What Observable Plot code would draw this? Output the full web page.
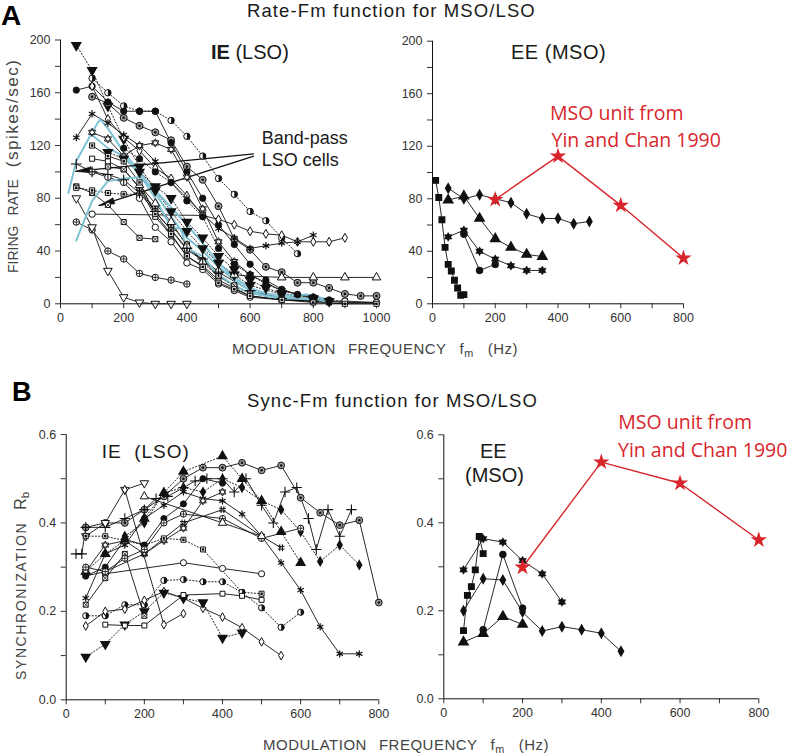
<!DOCTYPE html>
<html><head><meta charset="utf-8">
<script src="https://cdn.jsdelivr.net/npm/d3@7"></script>
<script src="https://cdn.jsdelivr.net/npm/@observablehq/plot@0.6"></script>
<style>
body{margin:0;background:#fff;}
#fig{position:relative;width:798px;height:756px;background:#fff;overflow:hidden;}
.pw{position:absolute;}
.t{position:absolute;white-space:nowrap;}
.t sub{font-size:0.72em;vertical-align:-0.25em;line-height:0;}
</style></head><body><div id="fig"></div>
<script>
// ===================== DATA =====================
// Panel A, IE (LSO): firing rate (spikes/sec) vs modulation frequency (Hz)
const ieR1 = [[50,196],[100,177],[150,150],[200,125],[250,104],[300,86],[350,70],[400,55],[450,42],[500,31],[550,22],[600,14],[700,7],[800,3]];
const ieR2 = [[100,171],[150,160],[200,150],[250,146],[300,146],[350,139],[400,127],[450,112],[500,95],[550,83],[600,70],[650,63],[700,50],[750,38]];
const ieR3 = [[100,157],[150,152],[200,141],[250,135],[300,130],[350,124],[400,104],[450,94],[500,74],[550,49],[600,41],[650,28],[700,24],[750,16],[800,16],[850,12],[900,7.5],[950,6],[1000,6]];
const ieR4 = [[50,162],[100,165],[150,153],[200,146],[250,146],[300,146],[350,122],[400,100],[450,80],[500,60],[550,45],[600,30],[650,18],[700,11],[750,7],[800,4]];
const ieR5 = [[100,165],[150,140],[200,126],[250,116],[300,103],[350,95],[400,82],[450,67],[500,64],[550,60],[600,55],[650,53],[700,52],[750,47],[800,47],[850,47],[900,50]];
const ieR6 = [[50,126],[100,144],[150,137],[200,128],[250,120],[300,108],[350,92],[400,80],[450,68],[500,57],[550,50],[600,42],[650,44],[700,46],[750,47],[800,52]];
const ieR7 = [[100,130],[150,125],[200,112],[250,120],[300,122],[350,117],[400,96],[450,72],[500,47],[550,32],[600,22],[700,10],[800,5]];
const ieR8 = [[50,89],[100,84],[150,75],[200,62],[250,50],[300,49]];
const ieR9 = [[50,62],[100,56],[150,40],[200,34],[250,23],[300,20],[350,18],[400,15]];
const ieR10 = [[50,80],[100,58],[150,25],[200,5],[250,1],[300,0],[350,0],[400,0]];
const ieR11 = [[50,88],[100,86],[150,84],[200,83],[250,83],[300,74],[350,60],[400,45],[450,31],[500,21],[550,13],[600,8],[700,5],[800,3],[900,2]];
const ieR12 = [[100,68],[450,67]];
const ieR13 = [[100,110],[150,108],[200,102],[250,88],[300,66],[350,52],[400,36],[450,29],[500,18],[550,12],[600,6],[700,3],[800,2],[900,1],[1000,1]];
const ieR14 = [[100,100],[150,96],[200,92],[250,80],[300,58],[350,47],[400,31],[450,26],[500,15],[550,10],[600,5],[700,3],[800,2],[900,2],[1000,1]];
const ieR15 = [[150,104],[200,102],[250,88],[300,70],[350,56],[400,41],[450,33],[500,21],[550,14],[600,8],[700,4],[800,2],[850,1]];
const ieR16 = [[250,90],[300,76],[350,62],[400,44],[450,32],[500,25],[550,22],[600,21],[700,20],[800,20],[900,20],[1000,20]];
const ieR17 = [[150,115],[200,110],[250,100],[300,89],[350,80],[400,62],[450,50],[500,36],[550,26],[600,18],[650,12],[700,8],[800,4],[850,2]];
const ieR18 = [[200,118],[250,110],[300,100],[350,92],[400,78],[450,66],[500,42],[550,30],[600,22],[650,15],[700,10],[750,7],[800,5],[850,3]];
const ieR19 = [[50,106],[100,100],[150,98],[200,94],[250,84],[300,70],[350,56],[400,42],[450,34],[500,24],[600,10],[700,4],[800,2]];
const ieR20 = [[100,120],[150,112],[200,108],[250,92],[300,68],[350,53],[400,36],[450,28],[500,16],[550,11],[600,6],[700,3],[800,1],[900,0],[1000,0]];
// band-pass LSO cells (highlighted)
const bandPass1 = [[25,84],[50,108],[100,130],[125,140],[150,133],[200,115],[250,100],[300,84],[350,66],[400,50],[450,40],[500,28],[550,18],[600,10],[650,6],[700,5],[750,4],[800,3],[850,2]];
const bandPass2 = [[50,48],[100,78],[150,93],[200,95],[250,96],[300,86],[350,73],[400,60],[450,46],[500,31],[550,20],[600,12],[650,8],[700,6],[780,7],[850,3]];
const bandPass3 = [[100,128],[150,118],[200,112],[250,98],[300,80],[350,58],[380,57],[400,42],[450,36],[500,22],[550,14],[600,8],[700,4],[800,4]];
// annotation arrows: [tail fm, tail rate, tip fm, tip rate]
const bandPassArrows = [[612,113.6,47,100.4],[612,112,121,74.4]];

// Panel A, EE (MSO)
const eeR_square = [[10,94],[20,81],[30,64],[40,43],[50,30],[60,25],[70,18],[80,12],[90,6.5],[100,7]];
const eeR_diamond = [[50,88],[100,80],[150,83],[200,80],[250,77],[300,68.5],[350,65],[400,65],[450,61],[500,62.7]];
const eeR_triangle = [[50,79],[100,82],[150,65],[200,49.5],[250,43],[300,37.6],[350,36]];
const eeR_star = [[50,51],[100,56],[150,40],[200,34],[250,29],[300,25.4],[350,25.4]];
const eeR_circle = [[100,53],[150,25.4],[200,30]];
const yinChanRate = [[200,79.4],[400,112.5],[600,75],[800,34.8]];

// Panel B, IE (LSO): synchronization Rb vs modulation frequency
const ieS1 = [[50,.39],[100,.40],[150,.40],[200,.43],[250,.46],[300,.50],[350,.525],[400,.525],[450,.536],[500,.519],[550,.53],[600,.457],[650,.423],[700,.395],[750,.406],[800,.22]];
const ieS2 = [[50,.29],[100,.33],[150,.36],[200,.41],[250,.468],[300,.516],[400,.551],[450,.50],[500,.45],[550,.38],[600,.31]];
const ieS3 = [[25,.33],[40,.33],[50,.39],[100,.39],[150,.41],[200,.43],[230,.455],[260,.46],[300,.48],[330,.495],[360,.5],[400,.5],[430,.47],[460,.5],[500,.44],[530,.40],[560,.47],[590,.48],[620,.41],[640,.34],[670,.43],[700,.37],[730,.43]];
const ieS4 = [[50,.23],[100,.33],[150,.35],[200,.41],[250,.44],[300,.47],[350,.455],[400,.45],[450,.42],[500,.37],[550,.31],[600,.248],[650,.165],[700,.104],[750,.104]];
const ieS5 = [[150,.37],[200,.40],[250,.468],[300,.48],[350,.47],[400,.50],[450,.48],[500,.45],[550,.43],[600,.38],[650,.313],[700,.35],[750,.305]];
const ieS6 = [[50,.37],[100,.40],[150,.475],[200,.49]];
const ieS7 = [[150,.475],[250,.17],[300,.195]];
const ieS8 = [[50,.29],[100,.35],[150,.36],[200,.33],[250,.36],[300,.388],[350,.45],[400,.47]];
const ieS9 = [[50,.37],[100,.37],[150,.36],[200,.35],[250,.365],[300,.362],[350,.34],[450,.243],[500,.24]];
const ieS10 = [[100,.285],[300,.31],[400,.297],[500,.285]];
const ieS11 = [[50,.19],[100,.19],[150,.215],[200,.215],[250,.27],[300,.272],[350,.267],[400,.267],[450,.243],[500,.208],[550,.164],[600,.198]];
const ieS12 = [[50,.167],[100,.2],[150,.205],[200,.225],[250,.245],[300,.23],[350,.207],[400,.187],[450,.163],[500,.131],[550,.1]];
const ieS13 = [[50,.097],[100,.126],[150,.17],[200,.2],[250,.242],[300,.23],[350,.22],[400,.14],[450,.152]];
const ieS14 = [[100,.17],[150,.168],[200,.168],[300,.237],[400,.24],[450,.235],[500,.226]];
const ieS15 = [[50,.215],[100,.275],[150,.33],[200,.19]];
const ieS16 = [[50,.28],[100,.30],[150,.363],[200,.35],[250,.41],[300,.443],[350,.50],[400,.49]];
const ieS17 = [[50,.28],[100,.29],[200,.33],[300,.40],[400,.43],[500,.37],[550,.344]];
const ieS18 = [[50,.30],[100,.29],[150,.32],[200,.34],[250,.40],[300,.42],[400,.41],[500,.365],[600,.388]];
const ieS19 = [[200,.46],[400,.40],[500,.37]];

// Panel B, EE (MSO)
const eeS_square = [[50,.155],[60,.235],[70,.255],[80,.293],[90,.369],[100,.33]];
const eeS_star = [[50,.293],[100,.364],[150,.356],[200,.314],[250,.284],[300,.22]];
const eeS_diamond = [[50,.2],[100,.273],[150,.27],[200,.197],[250,.154],[300,.164],[350,.157],[400,.149],[450,.108]];
const eeS_circle = [[100,.157],[150,.328],[200,.206]];
const eeS_triangle = [[50,.129],[100,.148],[150,.187],[200,.169]];
const yinChanSync = [[200,.299],[400,.538],[600,.49],[800,.361]];

// tick values
const rateTicks = [0,20,40,60,80,100,120,140,160,180,200];
const syncTicks = [0,0.1,0.2,0.3,0.4,0.5,0.6];
const fmTicks1000 = [0,100,200,300,400,500,600,700,800,900,1000];
const fmTicks800 = [0,100,200,300,400,500,600,700,800];

// ===================== STYLE =====================
const RED = "#d8262c", CYAN = "#7fc2d4", INK = "#111";
const FAM = '"Liberation Sans", Arial, Helvetica, sans-serif';

const X = d => d[0], Y = d => d[1];
const halfDisk = {draw(c, size){const r=Math.sqrt(size/Math.PI); c.moveTo(0,-r); c.arc(0,0,r,-Math.PI/2,Math.PI/2); c.closePath();}};
const plusLines = {draw(c, size){const r=Math.sqrt(size/Math.PI); c.moveTo(-r,0); c.lineTo(r,0); c.moveTo(0,-r); c.lineTo(0,r);}};
const xLines = {draw(c, size){const r=Math.sqrt(size)/2; c.moveTo(-r,-r); c.lineTo(r,r); c.moveTo(r,-r); c.lineTo(-r,r);}};
const hashLines = {draw(c, size){const r=Math.sqrt(size/Math.PI)*1.1, k=r*0.4; c.moveTo(-k,-r); c.lineTo(-k,r); c.moveTo(k,-r); c.lineTo(k,r); c.moveTo(-r,-k); c.lineTo(r,-k); c.moveTo(-r,k); c.lineTo(r,k);}};
const triDown = {draw(c, size){const y=-Math.sqrt(size/(3*Math.sqrt(3))); c.moveTo(0,-2*y); c.lineTo(Math.sqrt(3)*y,y); c.lineTo(-Math.sqrt(3)*y,y); c.closePath();}};
const hexagram = {draw(c, size){const r=Math.sqrt(size/Math.PI)*1.3; for(const a0 of [-90,90]){for(let i=0;i<3;i++){const a=(a0+i*120)*Math.PI/180; const px=r*Math.cos(a), py=r*Math.sin(a); i?c.lineTo(px,py):c.moveTo(px,py);} c.closePath();}}};
function wedgeSym(ang, L=16, W=3.2){return {draw(c){const co=Math.cos(ang), si=Math.sin(ang); const p=[[0,0],[-L,-W],[-L,W]].map(([u,v])=>[u*co-v*si,u*si+v*co]); c.moveTo(p[0][0],p[0][1]); c.lineTo(p[1][0],p[1][1]); c.lineTo(p[2][0],p[2][1]); c.closePath();}};}

function symMarks(data, sym, color, R){
  const b={x:X,y:Y};
  const dot=o=>Plot.dot(data,{...b,...o});
  switch(sym){
    case "cf": return [dot({r:R,fill:color,stroke:color,strokeWidth:0.8})];
    case "co": return [dot({r:R,fill:"white",stroke:color,strokeWidth:1})];
    case "cd": return [dot({r:R+0.3,fill:"#9a9a9a",stroke:color,strokeWidth:1}),dot({r:1.3,fill:color,stroke:"none"})];
    case "ch": return [dot({r:R,fill:"white",stroke:color,strokeWidth:1}),dot({r:R,symbol:halfDisk,fill:color,stroke:"none"})];
    case "cx": return [dot({r:R,fill:"white",stroke:color,strokeWidth:1}),dot({r:R,symbol:plusLines,fill:"none",stroke:color,strokeWidth:0.8})];
    case "sf": return [dot({r:R*0.9,symbol:"square",fill:color,stroke:color})];
    case "so": return [dot({r:R*0.9,symbol:"square",fill:"white",stroke:color,strokeWidth:1})];
    case "sx": return [dot({r:R*0.9,symbol:"square",fill:"white",stroke:color,strokeWidth:1}),dot({r:R*0.9,symbol:xLines,fill:"none",stroke:color,strokeWidth:0.8})];
    case "sd": return [dot({r:R*0.9,symbol:"square",fill:"white",stroke:color,strokeWidth:1}),dot({r:R*0.45,symbol:"square",fill:color,stroke:"none"})];
    case "tf": return [dot({r:R,symbol:"triangle",fill:color,stroke:color})];
    case "to": return [dot({r:R,symbol:"triangle",fill:"white",stroke:color,strokeWidth:1})];
    case "tdf": return [dot({r:R,symbol:triDown,fill:color,stroke:color})];
    case "tdo": return [dot({r:R,symbol:triDown,fill:"white",stroke:color,strokeWidth:1})];
    case "df": return [dot({r:R*0.8,symbol:"diamond",fill:color,stroke:color})];
    case "do": return [dot({r:R*0.85,symbol:"diamond",fill:"white",stroke:color,strokeWidth:1})];
    case "st": return [dot({r:R,symbol:hexagram,fill:color,stroke:color,strokeWidth:0.5})];
    case "sto": return [dot({r:R,symbol:hexagram,fill:"white",stroke:color,strokeWidth:0.9})];
    case "as": return [dot({r:R*1.1,symbol:"asterisk",fill:"none",stroke:color,strokeWidth:1.2})];
    case "pl": return [dot({r:R*1.1,symbol:"plus",fill:"none",stroke:color,strokeWidth:1.1})];
    case "hs": return [dot({r:R,symbol:hashLines,fill:"none",stroke:color,strokeWidth:1})];
    case "rs": return [dot({r:R,symbol:"star",fill:color,stroke:color})];
    default: return [];
  }
}

function panel(cfg){
  const {left, top, width, height, mL, mR, mT, mB, xDomain, xTicks, xLab, yDomain, yTicks, yLab, yFmt, series, extra=[], R=3.2} = cfg;
  const marks=[];
  for(const s of series){
    marks.push(Plot.line(s.data,{x:X,y:Y,stroke:s.color||INK,strokeWidth:s.w||0.9,strokeDasharray:s.dash?"1.2,2":null}));
  }
  marks.push(...extra);
  for(const s of series){ if(s.sym) marks.push(...symMarks(s.data,s.sym,s.color||INK,s.r||R)); }
  marks.push(Plot.ruleX([0],{stroke:INK,strokeWidth:1}));
  marks.push(Plot.ruleY([0],{stroke:INK,strokeWidth:1}));
  const svg = Plot.plot({
    width, height, marginLeft:mL, marginRight:mR, marginTop:mT, marginBottom:mB,
    x:{domain:xDomain, ticks:xTicks, tickFormat:d=>xLab(d)?String(d):"", tickSize:5, tickPadding:4, label:null},
    y:{domain:yDomain, ticks:yTicks, tickFormat:d=>yLab(d)?yFmt(d):"", tickSize:5, tickPadding:5, label:null},
    style:{fontFamily:FAM, fontSize:"12.5px", color:"#333", background:"transparent", overflow:"visible"},
    marks
  });
  const w=document.createElement("div"); w.className="pw"; w.style.left=left+"px"; w.style.top=top+"px";
  w.appendChild(svg); document.getElementById("fig").appendChild(w);
}

const every200 = d => d % 200 === 0;
const every40 = d => d % 40 === 0;
const sync02 = d => Math.round(d*10) % 2 === 0;

// ---- Panel A left
const A1 = {left:0, top:0, width:400, height:335, mL:60, mR:24, mT:39.5, mB:31.7};
const kxA = (A1.width-A1.mL-A1.mR)/1000, kyA = (A1.height-A1.mT-A1.mB)/200;
const arrowLinks = bandPassArrows.map(a=>Plot.link([a],{x1:d=>d[0],y1:d=>d[1],x2:d=>d[2],y2:d=>d[3],stroke:INK,strokeWidth:1.2}));
const arrowHeads = bandPassArrows.map(a=>{const ang=Math.atan2(-(a[3]-a[1])*kyA,(a[2]-a[0])*kxA); return Plot.dot([a],{x:d=>d[2],y:d=>d[3],r:4,symbol:wedgeSym(ang),fill:INK,stroke:INK,strokeWidth:0.5});});
panel({...A1, xDomain:[0,1000], xTicks:fmTicks1000, xLab:every200, yDomain:[0,200], yTicks:rateTicks, yLab:every40, yFmt:d=>String(d),
  series:[
    {data:ieR1,sym:"tdf",dash:true},{data:ieR2,sym:"ch",dash:true},{data:ieR3,sym:"cd"},{data:ieR4,sym:"cf"},
    {data:ieR5,sym:"do"},{data:ieR6,sym:"as"},{data:ieR7,sym:"sto"},{data:ieR8,sym:"sx"},{data:ieR9,sym:"cx"},
    {data:ieR10,sym:"tdo"},{data:ieR11,sym:"sd",dash:true},{data:ieR12,sym:"co"},{data:ieR13,sym:"so"},{data:ieR14,sym:"co"},
    {data:ieR15,sym:"sx"},{data:ieR16,sym:"to"},{data:ieR17,sym:"tdf",dash:true},{data:ieR18,sym:"cf",dash:true},
    {data:ieR19,sym:"pl"},{data:ieR20,sym:"sd"},
    {data:bandPass1,color:CYAN,w:2},{data:bandPass2,color:CYAN,w:2},{data:bandPass3,color:CYAN,w:1.8}
  ],
  extra:[...arrowLinks,...arrowHeads]
});

// ---- Panel A right
panel({left:400, top:0, width:398, height:335, mL:32, mR:115, mT:40.7, mB:31.7,
  xDomain:[0,800], xTicks:fmTicks800, xLab:every200, yDomain:[0,200], yTicks:rateTicks, yLab:every40, yFmt:d=>String(d), R:3.4,
  series:[
    {data:eeR_square,sym:"sf"},{data:eeR_diamond,sym:"df"},{data:eeR_triangle,sym:"tf"},{data:eeR_star,sym:"st"},
    {data:eeR_circle,sym:"cf"},{data:yinChanRate,sym:"rs",color:RED,w:1.4,r:3.7}
  ]});

// ---- Panel B left
panel({left:0, top:420, width:400, height:310, mL:65.7, mR:21.7, mT:14, mB:30.7,
  xDomain:[0,800], xTicks:fmTicks800, xLab:every200, yDomain:[0,0.6], yTicks:syncTicks, yLab:sync02, yFmt:d=>d.toFixed(1), R:3.1,
  series:[
    {data:ieS1,sym:"cd"},{data:ieS2,sym:"tf",dash:true},{data:ieS3,sym:"pl"},{data:ieS4,sym:"as"},{data:ieS5,sym:"df",dash:true},
    {data:ieS6,sym:"tdo"},{data:ieS7,sym:"do"},{data:ieS8,sym:"sto"},{data:ieS9,sym:"sd",dash:true},{data:ieS10,sym:"co"},
    {data:ieS11,sym:"ch",dash:true},{data:ieS12,sym:"do"},{data:ieS13,sym:"tdf",dash:true},{data:ieS14,sym:"so"},
    {data:ieS15,sym:"sx"},{data:ieS16,sym:"cf"},{data:ieS17,sym:"hs"},{data:ieS18,sym:"cx"},{data:ieS19,sym:"to"}
  ]});

// ---- Panel B right
panel({left:400, top:420, width:398, height:310, mL:43.3, mR:39.7, mT:14.3, mB:31.7,
  xDomain:[0,800], xTicks:fmTicks800, xLab:every200, yDomain:[0,0.6], yTicks:syncTicks, yLab:sync02, yFmt:d=>d.toFixed(1), R:3.4,
  series:[
    {data:eeS_square,sym:"sf"},{data:eeS_star,sym:"st"},{data:eeS_diamond,sym:"df"},{data:eeS_circle,sym:"cf"},
    {data:eeS_triangle,sym:"tf"},{data:yinChanSync,sym:"rs",color:RED,w:1.4,r:3.7}
  ]});

// ===================== TEXT =====================
const fig=document.getElementById("fig");
function txt(html, x, base, size, o={}){
  const fam=o.family||FAM, bf=o.bf||0.8465;
  const d=document.createElement("div"); d.className="t";
  d.style.fontFamily=fam; d.style.fontSize=size+"px"; d.style.lineHeight=size+"px";
  d.style.color=o.color||"#1a1a1a"; d.style.fontWeight=o.weight||"normal";
  if(o.ls) d.style.letterSpacing=o.ls+"px";
  d.style.left=x+"px"; d.style.top=(base-bf*size)+"px";
  d.innerHTML=html; fig.appendChild(d); return d;
}
function vtxt(html, baseX, startY, size, o={}){
  const d=document.createElement("div"); d.className="t";
  d.style.fontFamily=FAM; d.style.fontSize=size+"px"; d.style.lineHeight=size+"px"; d.style.color=o.color||"#444";
  if(o.ls) d.style.letterSpacing=o.ls+"px";
  d.style.left=(baseX-0.8465*size)+"px"; d.style.top=startY+"px";
  d.style.transformOrigin="0 0"; d.style.transform="rotate(-90deg)";
  d.innerHTML=html; fig.appendChild(d); return d;
}
const OPEN='"Open Sans", "Liberation Sans", sans-serif';
txt("A",1,26,28,{weight:"bold",color:"#000"});
txt("Rate-Fm function for MSO/LSO",247,17.5,18.5,{ls:1.1});
txt('<b>IE</b> (LSO)',211,59.3,20);
txt('EE (MSO)',511,59.3,20,{ls:0.5});
txt('Band-pass',261.7,144,18);
txt('LSO cells',261.7,166,18);
txt('MSO unit from',550,120.7,19.5,{family:OPEN,bf:0.888,color:RED});
txt('Yin and Chan 1990',551.5,147.3,19.5,{family:OPEN,bf:0.888,color:RED});
vtxt('<span style="font-size:14px">FIRING</span><span style="font-size:14px;margin-left:10px">RATE</span><span style="margin-left:12px;letter-spacing:1.5px">(spikes/sec)</span>',18.3,273,17);
const xlab='MODULATION<span style="margin-left:12px">FREQUENCY</span><span style="margin-left:13px">f<sub>m</sub></span><span style="margin-left:14px">(Hz)</span>';
txt(xlab,232,354,15,{ls:0.5,color:"#444"});
txt("B",12,402,27,{weight:"bold",color:"#000"});
txt("Sync-Fm function for MSO/LSO",247,407.5,18.5,{ls:1.1});
txt('IE&nbsp; (LSO)',101.7,458.3,19,{ls:1});
txt('EE',480,457.7,20);
txt('(MSO)',465,481.7,20);
txt('MSO unit from',618.3,429.3,19.5,{family:OPEN,bf:0.888,color:RED});
txt('Yin and Chan 1990',618,457.3,19.5,{family:OPEN,bf:0.888,color:RED});
vtxt('<span style="font-size:14px;letter-spacing:1.6px">SYNCHRONIZATION</span><span style="margin-left:12px">R<sub>b</sub></span>',26.7,680,16);
txt(xlab,263,749.5,15,{ls:0.5,color:"#444"});
</script></body></html>
